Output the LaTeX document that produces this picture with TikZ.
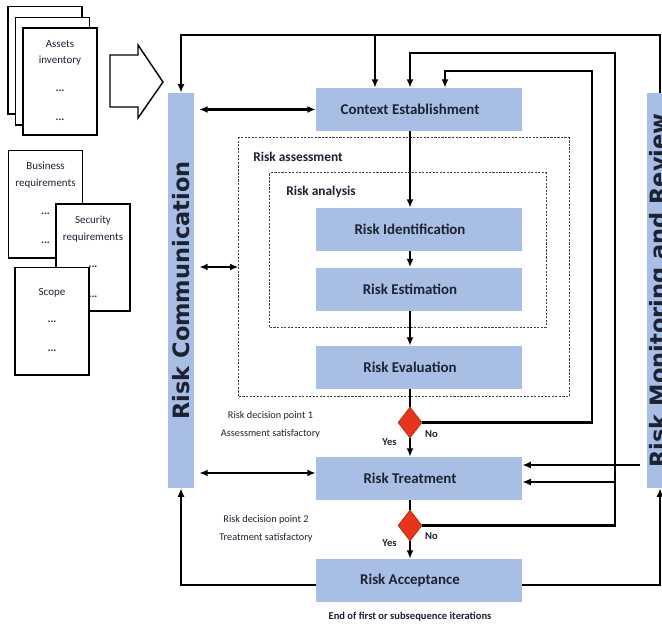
\documentclass[tikz,border=0pt]{standalone}
\usepackage{fontspec}
\setmainfont{Carlito}
\newfontfamily\barfont{DejaVu Sans}
\usepackage{graphicx}
\usepackage{xcolor}
\usetikzlibrary{shapes.geometric}
\usetikzlibrary{arrows.meta,calc}
\definecolor{stageblue}{RGB}{168,190,228}
\definecolor{decisionred}{RGB}{232,52,26}
\definecolor{ink}{RGB}{28,34,50}
\newcommand{\docdots}{\raisebox{1.5pt}{\textbf{...}}}
\tikzstyle{stage}=[fill=stageblue, text=ink, minimum width=5.15cm, minimum height=1.075cm, inner sep=0pt, font=\fontsize{10.6}{12}\selectfont\bfseries, execute at begin node={\hspace*{-0.45cm}}]
\tikzstyle{sidebar}=[fill=stageblue, text=ink, minimum width=0.65cm, minimum height=9.875cm, inner sep=0pt, font=\barfont\bfseries\fontsize{16}{18}\selectfont]
\tikzstyle{doc}=[draw=black, line width=1.4pt, fill=white, minimum width=1.85cm, minimum height=2.675cm, inner sep=0pt, align=center, text=ink, font=\fontsize{7.8}{9}\selectfont]
\tikzstyle{decision}=[diamond, draw=decisionred!70!black, line width=0.4pt, fill=decisionred, minimum width=0.6cm, minimum height=0.775cm, inner sep=0pt]
\tikzstyle{dashbox}=[draw=black!75, dash pattern=on 1.5pt off 1pt, line width=0.7pt, inner sep=0pt]
\tikzstyle{flow}=[line width=1.7pt, -{Latex[length=6pt,width=5pt]}]
\tikzstyle{link}=[line width=1.7pt]
\tikzstyle{both}=[line width=1.7pt, {Latex[length=6pt,width=5pt]}-{Latex[length=6pt,width=5pt]}]
\tikzstyle{note}=[text=ink, font=\fontsize{7.3}{12.8}\selectfont, align=center, inner sep=0pt]
\tikzstyle{tag}=[text=ink, font=\fontsize{7.5}{9}\selectfont\bfseries, inner sep=0pt]
\tikzstyle{boxlabel}=[anchor=west, text=ink, font=\fontsize{9.5}{11}\selectfont\bfseries, inner sep=0pt]

\begin{document}
\begin{tikzpicture}[x=0.025cm, y=-0.025cm]
\useasboundingbox (0,0) rectangle (662,626);
\clip (0,0) rectangle (662,626);

% inputs
\node[doc] (assets3) at (45,60) {};
\node[doc] (assets2) at (52.5,71) {};
\node[doc] (assets) at (60,81.5) {Assets\\[3pt]inventory\\[12pt]\docdots\\[12pt]\docdots};
\node[doc] (business) at (45.5,204) {Business\\[3pt]requirements\\[12pt]\docdots\\[12pt]\docdots};
\node[doc] (security) at (93,257.5) {Security\\[3pt]requirements\\[12pt]\docdots\\[12pt]\docdots};
\node[doc] (scope) at (52,321) {Scope\\[12pt]\docdots\\[12pt]\docdots};
\draw[line width=1pt, fill=white] (110,55) -- (138,55) -- (138,45) -- (163,82) -- (138,118) -- (138,107) -- (110,107) -- cycle;

% side bars
\node[sidebar] (comm) at (181,290.5) {\rotatebox{90}{Risk Communication}};
\node[sidebar] (monit) at (660,290.5) {\rotatebox{90}{Risk Monitoring and Review}};

% assessment frames
\node[dashbox, minimum width=8.25cm, minimum height=6.45cm] (assess) at (404,267) {};
\node[dashbox, minimum width=6.9cm, minimum height=3.85cm] (analysis) at (408,250) {};
\node[boxlabel] (assess-lbl) at (253,157) {Risk assessment};
\node[boxlabel] (analysis-lbl) at (286,192) {Risk analysis};

% stages
\node[stage] (ctx) at (419,109.5) {Context Establishment};
\node[stage] (ident) at (419,229.5) {Risk Identification};
\node[stage] (estim) at (419,289) {Risk Estimation};
\node[stage] (evalu) at (419,367.5) {Risk Evaluation};
\node[stage] (treat) at (419,478.5) {Risk Treatment};
\node[stage] (accept) at (419,580.5) {Risk Acceptance};
\node[decision] (dec1) at (410,422.5) {};
\node[decision] (dec2) at (410,525.5) {};

\coordinate (spine) at (410,0);
\coordinate (top) at (660,35);
\coordinate (topctx) at (375,35);
\coordinate (loop1) at (592,71);
\coordinate (loop1in) at (445,0);
\coordinate (loop2) at (615,53);
\coordinate (tap2) at (615,482);
\coordinate (watch) at (640,465);

% main flow
\draw[flow] (ctx.south -| spine) -- (ident.north -| spine);
\draw[flow] (ident.south -| spine) -- (estim.north -| spine);
\draw[flow] (estim.south -| spine) -- (evalu.north -| spine);
\draw[link] (evalu.south -| spine) -- (dec1.north);
\draw[flow] (dec1.south) -- (treat.north -| spine);
\draw[link] (treat.south -| spine) -- (dec2.north);
\draw[flow] (dec2.south) -- (accept.north -| spine);

% iterations
\draw[flow] (dec1.east) -| (loop1) -| (ctx.north -| loop1in);
\draw[flow] (dec2.east) -| (loop2) -| (ctx.north -| spine);
\draw[flow] (tap2) -- (tap2 -| treat.east);
\draw[flow] (watch) -- (watch -| treat.east);
\draw[flow] (monit.north) -- (top) -| (comm.north);
\draw[flow] (topctx) -- (ctx.north -| topctx);
\draw[flow] ($(accept.west)+(0,4.5)$) -| (comm.south);
\draw[flow] ($(accept.east)+(0,4.5)$) -| (monit.south);

% communication
\draw[both, shorten <=0.125cm] (comm.east |- ctx) -- (ctx.west);
\draw[both, shorten <=0.125cm] (comm.east |- assess.west) -- (assess.west);
\draw[both, shorten <=0.125cm] ($(comm.east |- treat.west)+(0,-5.5)$) -- ($(treat.west)+(0,-5.5)$);

% labels
\node[tag] (yes1) at (389.5,442) {Yes};
\node[tag] (no1) at (431.5,434) {No};
\node[tag] (yes2) at (389.5,543) {Yes};
\node[tag] (no2) at (431.5,536) {No};
\node[note] (point1) at (270.5,425) {Risk decision point 1\\Assessment satisfactory};
\node[note] (point2) at (266,528.5) {Risk decision point 2\\Treatment satisfactory};
\node[tag] (iter) at (410,617) {End of first or subsequence iterations};
\end{tikzpicture}
\end{document}
